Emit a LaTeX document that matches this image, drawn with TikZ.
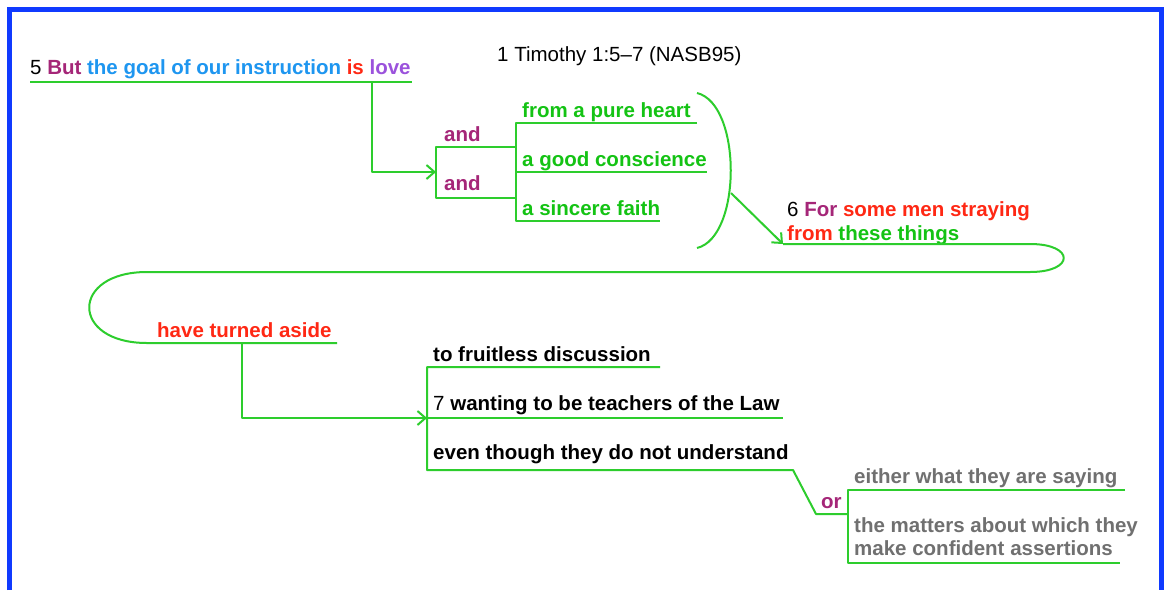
\documentclass[tikz,border=0pt]{standalone}
\usepackage{fontspec}
\setmainfont{Liberation Sans}
\usetikzlibrary{arrows.meta}
\definecolor{gline}{RGB}{45,205,45}
\definecolor{gtext}{RGB}{20,195,20}
\definecolor{plum}{RGB}{165,38,120}
\definecolor{skyb}{RGB}{30,150,240}
\definecolor{redt}{RGB}{255,40,20}
\definecolor{viol}{RGB}{155,82,220}
\definecolor{grayt}{RGB}{112,112,112}
\definecolor{frameblue}{RGB}{16,58,255}
\tikzset{
  txt/.style={anchor=base west, inner sep=0pt, font=\fontsize{20.5}{24}\selectfont},
  btxt/.style={anchor=base west, inner sep=0pt, font=\fontsize{20.5}{24}\selectfont\bfseries},
  link/.style={draw=gline, line width=2pt, line join=round},
  arr/.style={link, -{Straight Barb[length=8pt,width=14pt,line width=2pt]}},
}
\begin{document}
\begin{tikzpicture}[x=1pt,y=-1pt]
\useasboundingbox (0,0) rectangle (1165,590);
\fill[white] (0,0) rectangle (1165,590);
\draw[frameblue, line width=5pt] (9,590) -- (9,9) -- (1161,9) -- (1161,590);

% texts
\node[txt] (title) at (497,61) {1 Timothy 1:5--7 (NASB95)};
\node[txt] (v5) at (30,74) {5 \textbf{\color{plum}But} \textbf{\color{skyb}the goal of our instruction} \textbf{\color{redt}is} \textbf{\color{viol}love}};
\node[btxt, text=plum] (and1) at (444,141) {and};
\node[btxt, text=plum] (and2) at (444,190) {and};
\node[btxt, text=gtext] (heart) at (522,117) {from a pure heart};
\node[btxt, text=gtext] (consc) at (522,166) {a good conscience};
\node[btxt, text=gtext] (faith) at (522,215) {a sincere faith};
\node[txt] (v6a) at (787,216) {6 \textbf{\color{plum}For} \textbf{\color{redt}some men straying}};
\node[btxt] (v6b) at (787,240) {\color{redt}from \color{gtext}these things};
\node[btxt, text=redt] (turned) at (157,337) {have turned aside};
\node[btxt] (fruit) at (433,361) {to fruitless discussion};
\node[txt] (v7) at (433,410) {7 \textbf{wanting to be teachers of the Law}};
\node[btxt] (even) at (433,459) {even though they do not understand};
\node[btxt, text=plum] (or) at (821,508) {or};
\node[btxt, text=grayt] (either) at (854,483) {either what they are saying};
\node[btxt, text=grayt] (matters1) at (854,532) {the matters about which they};
\node[btxt, text=grayt] (matters2) at (854,555) {make confident assertions};

% coordinates
\coordinate (u1a) at (30,82);   \coordinate (u1b) at (412,82);
\coordinate (d1) at (372,82);   \coordinate (d1b) at (372,172);
\coordinate (b1) at (436,172);  \coordinate (b1t) at (436,147); \coordinate (b1b) at (436,198);
\coordinate (b2t) at (516,147); \coordinate (b2b) at (516,198);
\coordinate (c1) at (516,123);  \coordinate (c1e) at (697,123);
\coordinate (c2) at (516,172);  \coordinate (c2e) at (707,172);
\coordinate (c3) at (516,221);  \coordinate (c3e) at (660,221);
\coordinate (pt) at (697,93);   \coordinate (pb) at (697,248);
\coordinate (pa) at (731,193);  \coordinate (la) at (783,244);
\coordinate (lr1) at (1030,244); \coordinate (lr2) at (1030,272);
\coordinate (ll1) at (147,272); \coordinate (ll2) at (147,343);
\coordinate (ue) at (337,343);
\coordinate (d2) at (242,343);  \coordinate (d2b) at (242,418);
\coordinate (e1) at (427,418);  \coordinate (e1t) at (427,367); \coordinate (e1b) at (427,470);
\coordinate (f1e) at (660,367); \coordinate (f2e) at (783,418);
\coordinate (f3e) at (793,470); \coordinate (f3s) at (816,514);
\coordinate (g1) at (848,514);  \coordinate (g1t) at (848,490); \coordinate (g1b) at (848,563);
\coordinate (h1e) at (1125,490); \coordinate (h2e) at (1120,563);

% first clause
\path[link] (u1a) -- (u1b);
\path[arr] (d1) -- (d1b) -- (b1);
\path[link] (b2t) -- (b1t) -- (b1b) -- (b2b);
\path[link] (c1e) -- (c1) -- (c3) -- (c3e);
\path[link] (c2) -- (c2e);
% parenthesis
\path[link] (pt) .. controls (742,104) and (742,237) .. (pb);
\path[arr] (pa) -- (la);
% long loop
\path[link] (la) -- (lr1) .. controls (1075,244) and (1075,272) .. (lr2)
  -- (ll1) .. controls (70,272) and (70,343) .. (ll2) -- (ue);
\path[arr] (d2) -- (d2b) -- (e1);
\path[link] (f1e) -- (e1t) -- (e1b) -- (f3e) -- (f3s) -- (g1);
\path[link] (e1) -- (f2e);
\path[link] (h1e) -- (g1t) -- (g1b) -- (h2e);
\end{tikzpicture}
\end{document}
